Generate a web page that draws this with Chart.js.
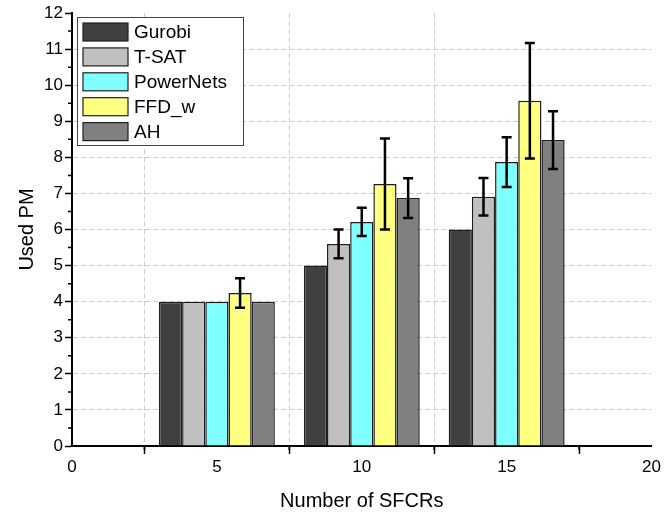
<!DOCTYPE html>
<html>
<head>
<meta charset="utf-8">
<title>Used PM vs Number of SFCRs</title>
<script src="https://cdn.jsdelivr.net/npm/chart.js@4.4.1/dist/chart.umd.min.js"></script>
<style>
  html, body { margin: 0; padding: 0; background: #fff; }
  #chart { display: block; }
</style>
</head>
<body>
<canvas id="chart" width="664" height="513"></canvas>
<script>
// number of SFCRs (x positions of the groups)
const sfcrs = [5, 10, 15];

// series names
const seriesNames = ['Gurobi', 'T-SAT', 'PowerNets', 'FFD_w', 'AH'];

// mean used PM per series
const gurobi    = [4, 5, 6];
const tsat      = [4, 5.6, 6.91];
const powerNets = [4, 6.21, 7.87];
const ffdW      = [4.24, 7.26, 9.57];
const ah        = [4, 6.87, 8.48];

// error (+/-) per series
const gurobiErr    = [0, 0, 0];
const tsatErr      = [0, 0.4, 0.52];
const powerNetsErr = [0, 0.39, 0.69];
const ffdWErr      = [0.41, 1.26, 1.6];
const ahErr        = [0, 0.55, 0.8];

// axis ticks
const xTicks = [0, 5, 10, 15, 20];
const yTicks = [0, 1, 2, 3, 4, 5, 6, 7, 8, 9, 10, 11, 12];

const seriesValues = [gurobi, tsat, powerNets, ffdW, ah];
const seriesErrors = [gurobiErr, tsatErr, powerNetsErr, ffdWErr, ahErr];
const seriesColors = ['#404040', '#C0C0C0', '#80FFFF', '#FFFF80', '#808080'];

const FONT = '"Liberation Sans", Arial, sans-serif';

const datasets = seriesNames.map((name, i) => ({
    label: name,
    data: sfcrs.map((x, j) => ({ x: x, y: seriesValues[i][j] })),
    errors: seriesErrors[i],
    backgroundColor: seriesColors[i],
    borderColor: '#1e1e1e',
    borderWidth: 1.5,
    categoryPercentage: 0.8,
    barPercentage: 1.0
}));

// error bars on top of the bars
const errorBarPlugin = {
    id: 'errorBars',
    afterDatasetsDraw(chart) {
        const ctx = chart.ctx;
        const yScale = chart.scales.y;
        ctx.save();
        ctx.strokeStyle = '#000';
        ctx.lineWidth = 2.5;
        chart.data.datasets.forEach((ds, i) => {
            const meta = chart.getDatasetMeta(i);
            meta.data.forEach((bar, j) => {
                const err = ds.errors[j];
                if (!err) return;
                const v = ds.data[j].y;
                const top = yScale.getPixelForValue(v + err);
                const bot = yScale.getPixelForValue(v - err);
                ctx.beginPath();
                ctx.moveTo(bar.x, top);
                ctx.lineTo(bar.x, bot);
                ctx.moveTo(bar.x - 5, top);
                ctx.lineTo(bar.x + 5, top);
                ctx.moveTo(bar.x - 5, bot);
                ctx.lineTo(bar.x + 5, bot);
                ctx.stroke();
            });
        });
        ctx.restore();
    }
};

// minor ticks + boxed legend inside the plot
const decorPlugin = {
    id: 'decor',
    afterDraw(chart) {
        const ctx = chart.ctx;
        const xs = chart.scales.x, ys = chart.scales.y;
        const area = chart.chartArea;
        ctx.save();
        ctx.strokeStyle = '#000';
        ctx.lineWidth = 1.5;
        ctx.beginPath();
        for (let i = 0; i < xTicks.length - 1; i++) {
            const px = xs.getPixelForValue((xTicks[i] + xTicks[i + 1]) / 2);
            ctx.moveTo(px, area.bottom);
            ctx.lineTo(px, area.bottom + 4);
        }
        for (let i = 0; i < yTicks.length - 1; i++) {
            const py = ys.getPixelForValue((yTicks[i] + yTicks[i + 1]) / 2);
            ctx.moveTo(area.left, py);
            ctx.lineTo(area.left - 4, py);
        }
        ctx.stroke();

        // legend
        const lx = 77, ly = 17, lw = 166, lh = 128;
        ctx.fillStyle = '#fff';
        ctx.fillRect(lx, ly, lw, lh);
        ctx.strokeStyle = '#444';
        ctx.lineWidth = 1;
        ctx.strokeRect(lx + 0.5, ly + 0.5, lw, lh);
        ctx.font = '19px ' + FONT;
        ctx.textBaseline = 'middle';
        ctx.textAlign = 'left';
        chart.data.datasets.forEach((ds, i) => {
            const cy = 32 + i * 24.9;
            ctx.fillStyle = ds.backgroundColor;
            ctx.fillRect(83, cy - 9, 45, 18);
            ctx.strokeStyle = '#1e1e1e';
            ctx.lineWidth = 1.2;
            ctx.strokeRect(83, cy - 9, 45, 18);
            ctx.fillStyle = '#000';
            ctx.fillText(ds.label, 134, cy + 1);
        });
        ctx.restore();
    }
};

const gridColor = (ends) => (c) =>
    (c.tick && ends.includes(c.tick.value)) ? 'rgba(0,0,0,0)' : '#cccccc';

new Chart(document.getElementById('chart').getContext('2d'), {
    type: 'bar',
    data: { datasets: datasets },
    options: {
        responsive: false,
        animation: false,
        devicePixelRatio: 1,
        layout: { padding: { top: 13, right: 9, left: 0, bottom: 0 } },
        plugins: {
            legend: { display: false },
            tooltip: { enabled: false }
        },
        scales: {
            x: {
                type: 'linear',
                offset: false,
                min: xTicks[0],
                max: xTicks[xTicks.length - 1],
                afterBuildTicks: (s) => { s.ticks = xTicks.map(v => ({ value: v })); },
                afterFit: (s) => { s.height = 67; },
                ticks: {
                    color: '#000',
                    padding: 3,
                    maxRotation: 0,
                    font: { family: FONT, size: 17 }
                },
                grid: {
                    color: gridColor([0, 20]),
                    tickColor: '#000',
                    tickLength: 8,
                    tickWidth: 1.5,
                    tickBorderDash: [1, 0]
                },
                border: { color: '#000', width: 2, dash: [5, 3] },
                title: {
                    display: true,
                    text: 'Number of SFCRs',
                    color: '#000',
                    padding: { top: 0, bottom: 0 },
                    font: { family: FONT, size: 20 }
                }
            },
            y: {
                min: yTicks[0],
                max: yTicks[yTicks.length - 1],
                afterBuildTicks: (s) => { s.ticks = yTicks.map(v => ({ value: v })); },
                afterFit: (s) => { s.width = 72; },
                ticks: {
                    color: '#000',
                    padding: 2,
                    font: { family: FONT, size: 17 }
                },
                grid: {
                    color: gridColor([0, 12]),
                    tickColor: '#000',
                    tickLength: 7,
                    tickWidth: 1.5,
                    tickBorderDash: [1, 0]
                },
                border: { color: '#000', width: 2, dash: [5, 3] },
                title: {
                    display: true,
                    text: 'Used PM',
                    color: '#000',
                    padding: { top: 15, bottom: 0 },
                    font: { family: FONT, size: 20 }
                }
            }
        }
    },
    plugins: [errorBarPlugin, decorPlugin]
});
</script>
</body>
</html>
